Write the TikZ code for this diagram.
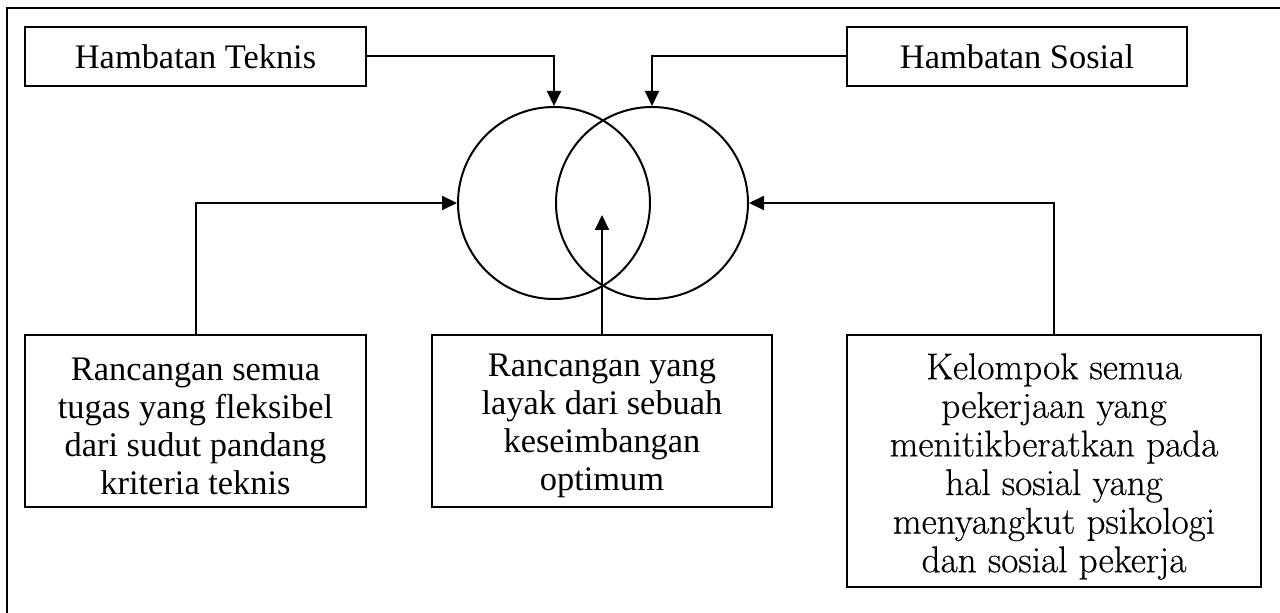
\documentclass[tikz,border=0pt]{standalone}
\usepackage{fontspec}
\setmainfont{Liberation Serif}
\newfontfamily\lmfont[FakeBold=0.5]{Latin Modern Roman}
\usetikzlibrary{arrows.meta}
\begin{document}
\begin{tikzpicture}[x=0.5pt,y=-0.5pt,
  box/.style={draw,line width=1pt,inner sep=0pt,align=center,font=\fontsize{17.2}{19}\selectfont},
  lmbox/.style={box,font=\lmfont\fontsize{18.6}{19.3}\selectfont},
  ring/.style={draw,line width=1pt,circle,minimum size=96pt,inner sep=0pt},
  conn/.style={line width=1pt,-{Triangle[length=7.5pt,width=7pt]}}]
\useasboundingbox (0,0) rectangle (1280,613);
\draw[line width=1.2pt] (7,613) -- (7,8) -- (1280,8);

\node[box,minimum width=170.5pt,minimum height=29.5pt] (tek) at (195.5,56.5) {Hambatan Teknis};
\node[box,minimum width=170pt,minimum height=29.5pt] (sos) at (1017,56.5) {Hambatan Sosial};

\node[ring] (lc) at (554,203) {};
\node[ring] (rc) at (652,203) {};

\node[box,minimum width=170.5pt,minimum height=86pt] (lb) at (195.5,421)
  {\rule{0pt}{16.5pt}Rancangan semua\\tugas yang fleksibel\\dari sudut pandang\\kriteria teknis};
\node[box,minimum width=170pt,minimum height=86pt] (mb) at (602,421)
  {\rule{0pt}{16.5pt}Rancangan yang\\layak dari sebuah\\keseimbangan\\optimum};
\node[lmbox,minimum width=207pt,minimum height=126pt] (rb) at (1054,461)
  {\rule{0pt}{18.5pt}Kelompok semua\\pekerjaan yang\\menitikberatkan pada\\hal sosial yang\\menyangkut psikologi\\dan sosial pekerja};

\coordinate (tip) at (602,215);

\draw[conn] (tek.east) -| (lc.north);
\draw[conn] (sos.west) -| (rc.north);
\draw[conn] (lb.north) |- (lc.west);
\draw[conn] (rb.north) |- (rc.east);
\draw[conn] (mb.north) -- (tip);
\end{tikzpicture}
\end{document}
